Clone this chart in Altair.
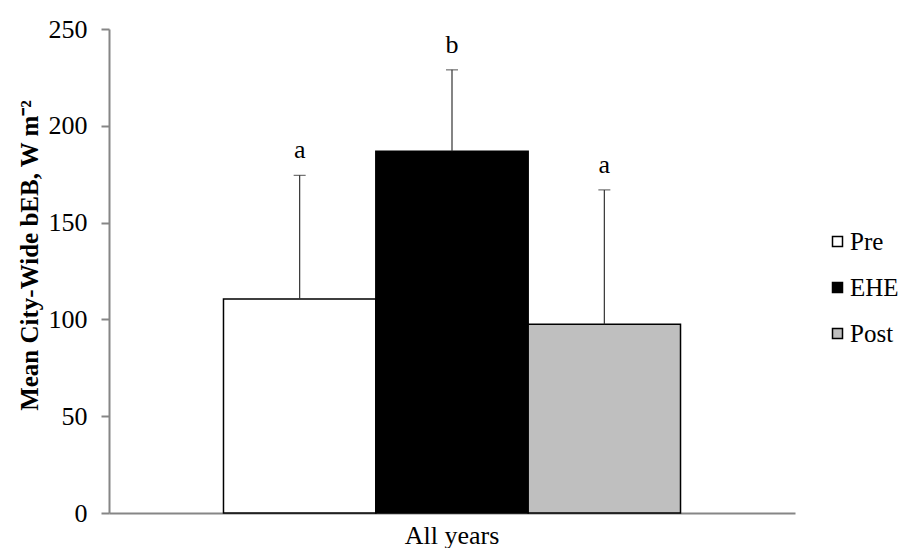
import altair as alt
import pandas as pd

groups = ["Pre", "EHE", "Post"]
category = ["All years", "All years", "All years"]
means = [110.6, 186.9, 97.5]
upper = [174.4, 228.9, 166.9]
letters = ["a", "b", "a"]
colors = ["#FFFFFF", "#000000", "#BFBFBF"]
y_ticks = [0, 50, 100, 150, 200, 250]

df = pd.DataFrame({"cat": category, "group": groups, "mean": means,
                   "upper": upper, "letter": letters})

FONT = "Liberation Serif"

x_enc = alt.X("cat:N", title=None,
              scale=alt.Scale(paddingInner=0, paddingOuter=0.2505),
              axis=alt.Axis(labelAngle=0, ticks=False, labelFontSize=26,
                            labelFont=FONT, labelPadding=9,
                            labelColor="black",
                            domainColor="#868686", domainWidth=2))
xo_enc = alt.XOffset("group:N", sort=groups,
                     scale=alt.Scale(paddingInner=0, paddingOuter=0))
y_scale = alt.Scale(domain=[0, 250], nice=False)

bars = alt.Chart(df).mark_bar(stroke="black", strokeWidth=1.5).encode(
    x=x_enc,
    xOffset=xo_enc,
    y=alt.Y("mean:Q", scale=y_scale,
            title="Mean City-Wide bEB, W m⁻²",
            axis=alt.Axis(values=y_ticks, grid=False, labelFontSize=26,
                          labelFont=FONT,
                          labelColor="black", labelPadding=14,
                          tickSize=8, tickColor="#868686", tickWidth=2,
                          domainColor="#868686", domainWidth=2,
                          titleFont=FONT,
                          titleFontSize=25, titleFontWeight="bold",
                          titleColor="black", titleAngle=-90,
                          titleX=-72, titleY=226, titleAlign="center",
                          titleBaseline="alphabetic")),
    color=alt.Color("group:N", sort=groups,
                    scale=alt.Scale(domain=groups, range=colors),
                    legend=alt.Legend(title=None, orient="none",
                                      legendX=716, legendY=200,
                                      symbolType="square", symbolSize=100,
                                      symbolStrokeColor="black",
                                      symbolStrokeWidth=1.5,
                                      symbolOpacity=1,
                                      labelFont=FONT,
                                      labelFontSize=25, labelColor="black",
                                      labelOffset=0, rowPadding=20,
                                      padding=0)),
)

err = alt.Chart(df).mark_rule(color="#333333", strokeWidth=1.2).encode(
    x=alt.X("cat:N"),
    xOffset=alt.XOffset("group:N", sort=groups),
    y=alt.Y("mean:Q", scale=y_scale),
    y2="upper:Q",
)

caps = alt.Chart(df).mark_tick(color="#333333", thickness=1.2, size=12,
                               orient="horizontal").encode(
    x=alt.X("cat:N"),
    xOffset=alt.XOffset("group:N", sort=groups),
    y=alt.Y("upper:Q", scale=y_scale),
)

labels = alt.Chart(df).mark_text(baseline="bottom", dy=-12, fontSize=26,
                                 font=FONT, color="black").encode(
    x=alt.X("cat:N"),
    xOffset=alt.XOffset("group:N", sort=groups),
    y=alt.Y("upper:Q", scale=y_scale),
    text="letter:N",
)

chart = alt.layer(bars, err, caps, labels).properties(
    width=686, height=484,
    autosize=alt.AutoSizeParams(type="none"),
    padding={"left": 101, "top": 21, "right": 104, "bottom": 35},
).configure(font=FONT).configure_view(stroke=None)

chart.save("out.html", embed_options={"renderer": "svg", "actions": False})
